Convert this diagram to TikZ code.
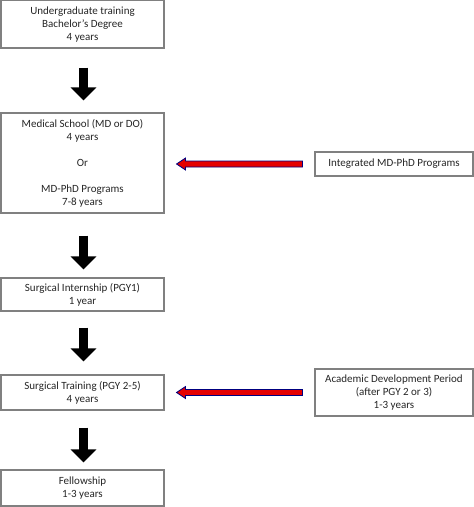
\documentclass[tikz,border=0pt]{standalone}
\usepackage{fontspec}
\setmainfont{Carlito}
\usetikzlibrary{arrows.meta,calc}
\begin{document}
\begin{tikzpicture}[x=1pt,y=-1pt,
  box/.style={draw=gray!75!black!80, line width=1.1pt, fill=white, align=center,
    inner sep=0pt, text=black!85, font=\fontsize{11}{13}\selectfont},
  blk/.style={line width=9pt, black, -{Triangle[width=25pt,length=13pt]}},
  redarr/.style={fill=red!90!black, draw=blue!50!black, line width=0.8pt, line join=miter}
]
\useasboundingbox (0,0) rectangle (474,507);
\node[box, minimum width=163pt, minimum height=47.5pt] (b1) at (82.5,24.2) {Undergraduate training\\Bachelor’s Degree\\4 years};
\node[box, minimum width=163pt, minimum height=100pt] (b2) at (82.5,163) {Medical School (MD or DO)\\4 years\\[13pt]Or\\[13pt]MD-PhD Programs\\7-8 years};
\node[box, minimum width=163pt, minimum height=33pt] (b3) at (82.5,294.5) {Surgical Internship (PGY1)\\1 year};
\node[box, minimum width=163pt, minimum height=35pt] (b4) at (82.5,392.5) {Surgical Training (PGY 2-5)\\4 years};
\node[box, minimum width=163pt, minimum height=36pt] (b5) at (82.5,488) {Fellowship\\1-3 years};
\node[box, minimum width=158pt, minimum height=24pt] (integ) at (394,164) {Integrated MD-PhD Programs};
\node[box, minimum width=158pt, minimum height=47pt] (acad) at (394,392.5) {Academic Development Period\\(after PGY 2 or 3)\\1-3 years};
% black arrows
\draw[blk, shorten <=19pt, shorten >=12pt] ([xshift=1pt]b1.south) -- ([xshift=1pt]b2.north);
\draw[blk, shorten <=22pt, shorten >=8pt] ([xshift=1pt]b2.south) -- ([xshift=1pt]b3.north);
\draw[blk, shorten <=16pt, shorten >=13pt] ([xshift=1pt]b3.south) -- ([xshift=1pt]b4.north);
\draw[blk, shorten <=17pt, shorten >=7pt] ([xshift=1pt]b4.south) -- ([xshift=1pt]b5.north);
% red arrows
\path (b2.east |- integ.west) ++(12,0) coordinate (t1);
\path (integ.west) ++(-12,0) coordinate (e1);
\draw[redarr] (t1) -- ($(t1)+(9,-6)$) -- ($(t1)+(9,-3)$) -- ($(e1)+(0,-3)$) -- ($(e1)+(0,3)$) -- ($(t1)+(9,3)$) -- ($(t1)+(9,6)$) -- cycle;
\path (b4.east |- acad.west) ++(12,0) coordinate (t2);
\path (acad.west) ++(-12,0) coordinate (e2);
\draw[redarr] (t2) -- ($(t2)+(9,-6)$) -- ($(t2)+(9,-3)$) -- ($(e2)+(0,-3)$) -- ($(e2)+(0,3)$) -- ($(t2)+(9,3)$) -- ($(t2)+(9,6)$) -- cycle;
\end{tikzpicture}
\end{document}
